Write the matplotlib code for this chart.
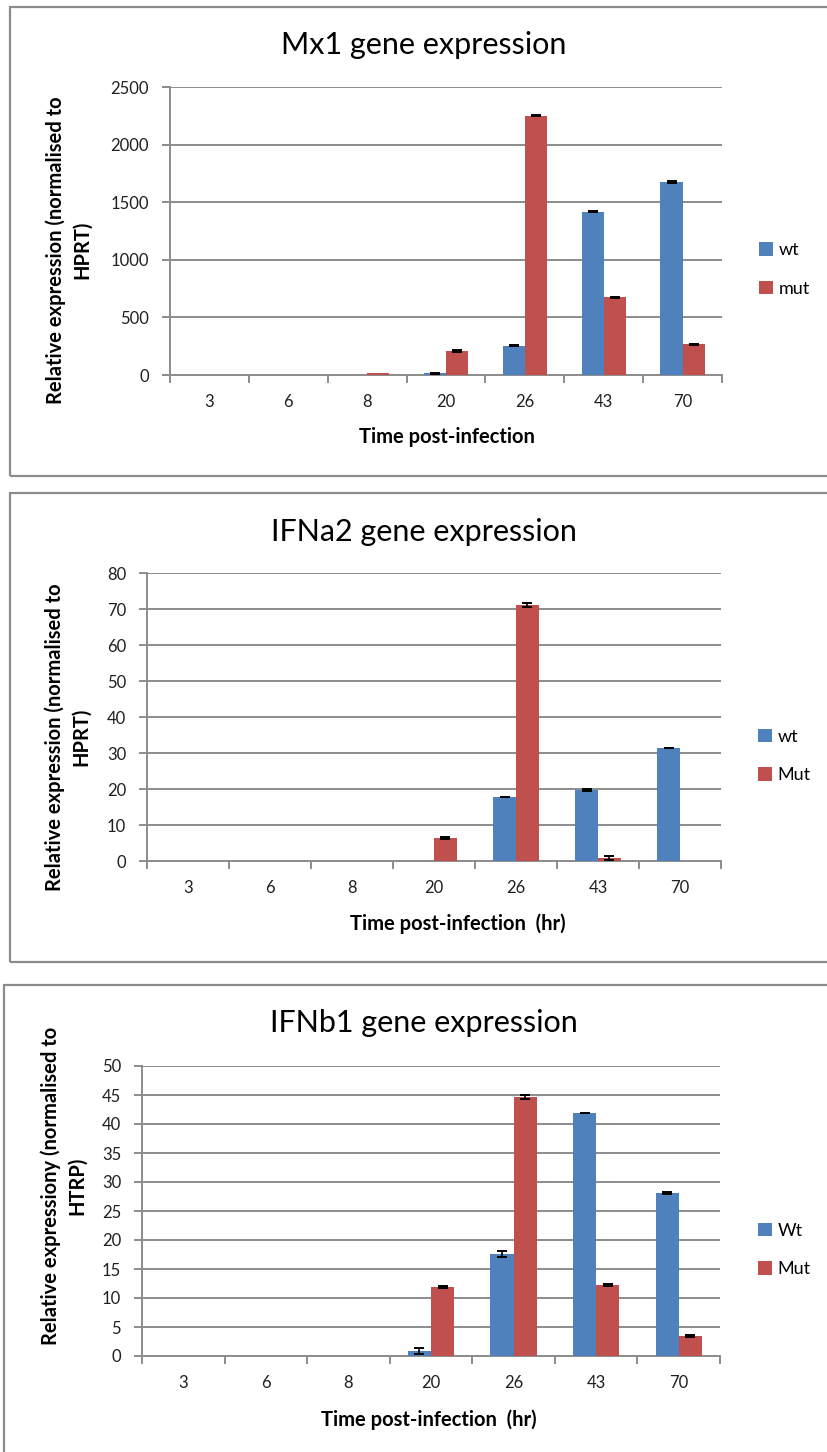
import numpy as np
import matplotlib
matplotlib.use("Agg")
import matplotlib.pyplot as plt
from matplotlib.patches import Rectangle

plt.rcParams['font.family'] = ['Lato', 'DejaVu Sans']

categories = ["3", "6", "8", "20", "26", "43", "70"]

# Mx1
mx1_wt = [0, 0, 0, 15, 253, 1416, 1676]
mx1_wt_err = [0, 0, 0, 4, 5, 5, 5]
mx1_mut = [0, 0, 15, 211, 2251, 673, 267]
mx1_mut_err = [0, 0, 0, 10, 6, 6, 5]

# IFNa2
ifna2_wt = [0, 0, 0, 0, 17.8, 19.7, 31.4]
ifna2_wt_err = [0, 0, 0, 0, 0.1, 0.25, 0.12]
ifna2_mut = [0, 0, 0, 6.5, 71.1, 0.9, 0]
ifna2_mut_err = [0, 0, 0, 0.25, 0.5, 0.5, 0]

# IFNb1
ifnb1_wt = [0, 0, 0, 0.9, 17.6, 41.9, 28.1]
ifnb1_wt_err = [0, 0, 0, 0.5, 0.5, 0.05, 0.15]
ifnb1_mut = [0, 0, 0, 11.95, 44.6, 12.3, 3.45]
ifnb1_mut_err = [0, 0, 0, 0.15, 0.35, 0.15, 0.15]

W, H = 828, 1452
fig = plt.figure(figsize=(W / 100, H / 100), dpi=100)

BLUE = "#4F81BD"
RED = "#C0504D"
GRID = "#8C8C8C"


def fx(px):
    return px / W


def fy(py):
    return 1 - py / H


charts = [
    dict(title="Mx1 gene expression", wt=mx1_wt, wte=mx1_wt_err, mut=mx1_mut, mte=mx1_mut_err,
         labels=("wt", "mut"), ymax=2500, ystep=500,
         ax=(170, 722, 87, 375), title_y=45,
         ylabel="Relative expression (normalised to\nHPRT)", ylab=(69, 250),
         xlabel="Time post-infection", xlab=(447, 437),
         leg=(759, 269.5), frame=(10, 7, 900, 476)),
    dict(title="IFNa2 gene expression", wt=ifna2_wt, wte=ifna2_wt_err, mut=ifna2_mut, mte=ifna2_mut_err,
         labels=("wt", "Mut"), ymax=80, ystep=10,
         ax=(147, 721, 573, 861), title_y=532,
         ylabel="Relative expression (normalised to\nHPRT)", ylab=(68, 737),
         xlabel="Time post-infection  (hr)", xlab=(458, 924),
         leg=(758, 756), frame=(10, 493, 900, 962)),
    dict(title="IFNb1 gene expression", wt=ifnb1_wt, wte=ifnb1_wt_err, mut=ifnb1_mut, mte=ifnb1_mut_err,
         labels=("Wt", "Mut"), ymax=50, ystep=5,
         ax=(142, 720, 1066, 1356), title_y=1023,
         ylabel="Relative expressiony (normalised to\nHTRP)", ylab=(64, 1186),
         xlabel="Time post-infection  (hr)", xlab=(429, 1420),
         leg=(758, 1250), frame=(4, 985, 900, 1500)),
]

for c in charts:
    # outer frame
    x0, y0, x1, y1 = c["frame"]
    fig.patches.append(Rectangle((fx(x0), fy(y1)), fx(x1) - fx(x0), fy(y0) - fy(y1),
                                 transform=fig.transFigure, fill=False,
                                 edgecolor="#8C8C8C", linewidth=1.6, zorder=0))
    l, r, t, b = c["ax"]
    ax = fig.add_axes([fx(l), fy(b), fx(r) - fx(l), fy(t) - fy(b)])
    x = np.arange(len(categories))
    w = 0.28
    b1 = ax.bar(x - w / 2, c["wt"], w, color=BLUE, zorder=3, label=c["labels"][0])
    b2 = ax.bar(x + w / 2, c["mut"], w, color=RED, zorder=3, label=c["labels"][1])
    for off, vals, errs in ((-w / 2, c["wt"], c["wte"]), (w / 2, c["mut"], c["mte"])):
        vals = np.asarray(vals, float)
        errs = np.asarray(errs, float)
        m = errs > 0
        ax.errorbar(x[m] + off, vals[m], yerr=errs[m], fmt="none", ecolor="black",
                    capsize=3.5, elinewidth=1.2, capthick=1.4, zorder=4)
    ax.set_xlim(-0.5, len(categories) - 0.5)
    ax.set_ylim(0, c["ymax"])
    ax.set_yticks(np.arange(0, c["ymax"] + 0.001, c["ystep"]))
    ax.yaxis.grid(True, color=GRID, linewidth=1.4, zorder=0)
    ax.set_axisbelow(True)
    for s in ("top", "right"):
        ax.spines[s].set_visible(False)
    for s in ("left", "bottom"):
        ax.spines[s].set_color(GRID)
        ax.spines[s].set_linewidth(1.4)
    ax.set_xticks(x)
    ax.set_xticklabels(categories)
    ax.set_xticks(np.arange(-0.5, len(categories)), minor=True)
    ax.tick_params(axis="x", which="major", length=0, pad=14, labelsize=12, colors="#202020")
    ax.tick_params(axis="x", which="minor", length=6, width=1.4, color=GRID, direction="out")
    ax.tick_params(axis="y", length=6, width=1.4, color=GRID, direction="out", pad=9,
                   labelsize=12, labelcolor="#202020")
    fig.text(fx(424), fy(c["title_y"]), c["title"], ha="center", va="center", fontsize=22)
    fig.text(fx(c["ylab"][0]), fy(c["ylab"][1]), c["ylabel"], ha="center", va="center",
             rotation=90, fontsize=14.5, fontweight="bold", multialignment="center",
             linespacing=1.4)
    fig.text(fx(c["xlab"][0]), fy(c["xlab"][1]), c["xlabel"], ha="center", va="center",
             fontsize=14.5, fontweight="bold")
    ax.legend(handles=[b1, b2], loc="center left",
              bbox_to_anchor=(fx(c["leg"][0]), fy(c["leg"][1])),
              bbox_transform=fig.transFigure, frameon=False, fontsize=13,
              handlelength=0.75, handleheight=0.75, handletextpad=0.35,
              labelspacing=1.25, borderpad=0, borderaxespad=0)

fig.savefig("out.png", dpi=100)
